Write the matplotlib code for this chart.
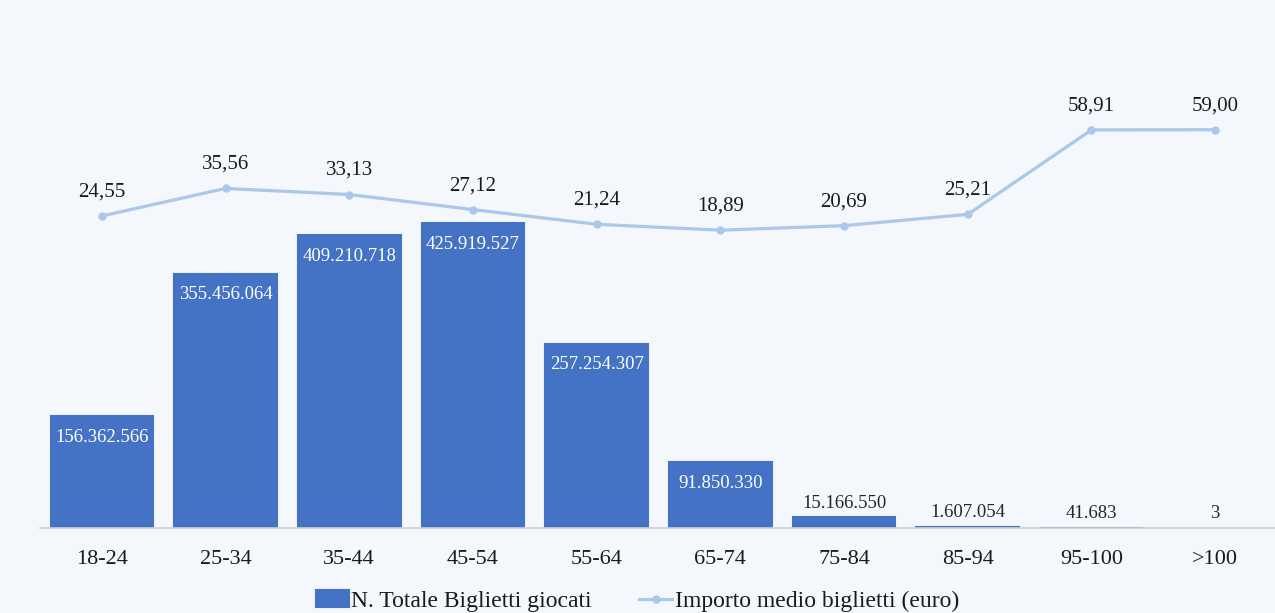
import matplotlib.pyplot as plt
import numpy as np

# Data
categories = ['18-24', '25-34', '35-44', '45-54', '55-64', '65-74', '75-84', '85-94', '95-100', '>100']
tickets = [156362566, 355456064, 409210718, 425919527, 257254307, 91850330, 15166550, 1607054, 41683, 3]
avg_amount = [24.55, 35.56, 33.13, 27.12, 21.24, 18.89, 20.69, 25.21, 58.91, 59.00]

bar_color = '#4472C4'
line_color = '#A9C8EA'
bg = '#F4F7FB'

plt.rcParams['font.family'] = ['Liberation Serif', 'DejaVu Serif']


def fmt_int(v):
    # Italian style thousands separator
    return f'{v:,}'.replace(',', '.')


def fmt_dec(v):
    return f'{v:.2f}'.replace('.', ',')


fig = plt.figure(figsize=(12.75, 6.13), dpi=100, facecolor=bg)
ax = fig.add_axes([40 / 1275, 85 / 613, 1237 / 1275, 501 / 613])
ax.set_facecolor(bg)
x = np.arange(len(categories))

bars = ax.bar(x, tickets, width=0.83, color=bar_color, label='N. Totale Biglietti giocati', zorder=2)
# tiny bars still show as a thin line like in the original
for b, v in zip(bars, tickets):
    if v >= 1000:
        b.set_edgecolor(bar_color)
        b.set_linewidth(1.5)
ax.set_ylim(0, 700e6)
ax.set_xlim(-0.5, len(categories) - 0.5)

# bar labels: white inside tall bars, dark above short ones
for xi, v in zip(x, tickets):
    if v > 50e6:
        ax.annotate(fmt_int(v), (xi, v), xytext=(0, -21), textcoords='offset pixels',
                    ha='center', va='center', color='white', fontsize=13.5)
    else:
        ax.annotate(fmt_int(v), (xi, v), xytext=(0, 14), textcoords='offset pixels',
                    ha='center', va='center', color='#262626', fontsize=13.5)

ax2 = ax.twinx()
ax2.set_ylim(-100, 100)
ax2.plot(x, avg_amount, color=line_color, lw=2.3, marker='o', ms=5,
         label='Importo medio biglietti (euro)', zorder=3)
for xi, v in zip(x, avg_amount):
    ax2.annotate(fmt_dec(v), (xi, v), xytext=(0, 24), textcoords='offset pixels',
                 ha='center', va='center', color='#1a1a1a', fontsize=15)

for a in (ax, ax2):
    for s in ['top', 'right', 'left']:
        a.spines[s].set_visible(False)
    a.set_yticks([])
ax2.spines['bottom'].set_visible(False)
ax.spines['bottom'].set_color('#D0D0D0')
ax.spines['bottom'].set_linewidth(1.2)

ax.set_xticks(x)
ax.set_xticklabels(categories, fontsize=16, color='#1a1a1a')
ax.tick_params(axis='x', length=0, pad=16)

h1, l1 = ax.get_legend_handles_labels()
h2, l2 = ax2.get_legend_handles_labels()
fig.legend(h1 + h2, l1 + l2, loc='center', bbox_to_anchor=(0.5, 1 - 601 / 613), ncol=2,
           frameon=False, fontsize=17, handlelength=1.4, handletextpad=0.1,
           columnspacing=2.0, labelcolor='#1a1a1a')

fig.savefig('out.png', dpi=100, facecolor=bg)
